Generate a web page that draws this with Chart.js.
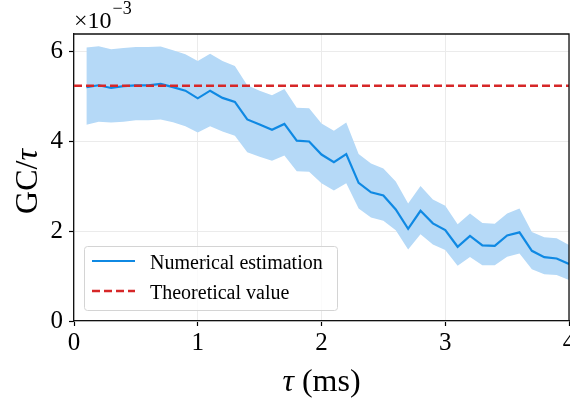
<!DOCTYPE html>
<html>
<head>
<meta charset="utf-8">
<script src="https://cdn.jsdelivr.net/npm/chart.js@4"></script>
<style>
  html, body { margin: 0; padding: 0; background: #fff; }
  #wrap { width: 570px; height: 399px; }
</style>
</head>
<body>
<div id="wrap"><canvas id="myChart" width="570" height="399"></canvas></div>
<script>
// tau in ms
const tau = [0.1, 0.2, 0.3, 0.4, 0.5, 0.6, 0.7, 0.8, 0.9, 1.0,
  1.1, 1.2, 1.3, 1.4, 1.5, 1.6, 1.7, 1.8, 1.9, 2.0,
  2.1, 2.2, 2.3, 2.4, 2.5, 2.6, 2.7, 2.8, 2.9, 3.0,
  3.1, 3.2, 3.3, 3.4, 3.5, 3.6, 3.7, 3.8, 3.9, 4.0];

// GC/tau, units of 1e-3
const meanVals = [5.20, 5.24, 5.18, 5.22, 5.24, 5.24, 5.27, 5.20, 5.12, 4.95,
  5.12, 4.96, 4.87, 4.48, 4.37, 4.25, 4.38, 4.01, 3.99, 3.70,
  3.53, 3.71, 3.07, 2.86, 2.79, 2.48, 2.05, 2.45, 2.17, 2.02,
  1.65, 1.89, 1.68, 1.67, 1.90, 1.97, 1.56, 1.42, 1.39, 1.27];
const upperVals = [6.08, 6.11, 6.04, 6.07, 6.09, 6.09, 6.10, 6.02, 5.93, 5.78,
  5.94, 5.78, 5.67, 5.24, 5.12, 5.02, 5.16, 4.74, 4.73, 4.39,
  4.23, 4.41, 3.71, 3.50, 3.39, 3.10, 2.61, 3.00, 2.70, 2.56,
  2.15, 2.39, 2.18, 2.16, 2.39, 2.50, 1.98, 1.86, 1.84, 1.69];
const lowerVals = [4.36, 4.43, 4.41, 4.43, 4.46, 4.46, 4.48, 4.42, 4.33, 4.19,
  4.33, 4.21, 4.12, 3.75, 3.65, 3.56, 3.68, 3.33, 3.32, 3.06,
  2.90, 3.06, 2.50, 2.30, 2.23, 2.02, 1.59, 1.93, 1.70, 1.58,
  1.23, 1.42, 1.24, 1.24, 1.43, 1.50, 1.15, 1.04, 1.02, 0.91];
const theoryVal = 5.23;
const xRange = [0, 4];
const xTicks = [0, 1, 2, 3, 4];
const yTicks = [0, 2, 4, 6];
const yMax = 6.38;

const scale = 1e-3;
function pts(vals) {
  return vals.map(function (v, i) { return { x: tau[i], y: v * scale }; });
}

const serif = "'Liberation Serif', 'DejaVu Serif', serif";
Chart.defaults.font.family = serif;
Chart.defaults.color = '#000';

const blue = '#0f89e3';
const red = '#d62728';

const extras = {
  id: 'extras',
  afterDraw(chart) {
    const ctx = chart.ctx;
    const a = chart.chartArea;
    ctx.save();
    // top and right spines
    ctx.strokeStyle = '#111';
    ctx.lineWidth = 1.3;
    ctx.beginPath();
    ctx.moveTo(a.left, a.top);
    ctx.lineTo(a.right, a.top);
    ctx.lineTo(a.right, a.bottom);
    ctx.stroke();

    // legend
    ctx.beginPath();
    ctx.roundRect(84.5, 246.5, 253, 64, 3);
    ctx.fillStyle = 'rgba(255,255,255,0.8)';
    ctx.fill();
    ctx.strokeStyle = '#d4d4d4';
    ctx.lineWidth = 1;
    ctx.stroke();

    ctx.lineWidth = 2;
    ctx.strokeStyle = blue;
    ctx.beginPath();
    ctx.moveTo(92, 261);
    ctx.lineTo(135, 261);
    ctx.stroke();
    ctx.strokeStyle = red;
    ctx.lineWidth = 2.5;
    ctx.setLineDash([8, 4]);
    ctx.beginPath();
    ctx.moveTo(92, 291);
    ctx.lineTo(135, 291);
    ctx.stroke();
    ctx.setLineDash([]);

    ctx.fillStyle = '#000';
    ctx.font = '20px ' + serif;
    ctx.textBaseline = 'alphabetic';
    ctx.textAlign = 'left';
    ctx.fillText('Numerical estimation', 150, 268.5);
    ctx.fillText('Theoretical value', 150, 298.5);

    // offset text
    ctx.font = '24px ' + serif;
    ctx.fillText('\u00d710', 74, 28);
    const w = ctx.measureText('\u00d710').width;
    ctx.font = '18px ' + serif;
    ctx.fillText('\u22123', 74 + w + 1, 13.5);

    // x title
    const t1 = '\u03c4';
    ctx.font = '32px ' + serif;
    const rest = ' (ms)';
    const wr = ctx.measureText(rest).width;
    ctx.font = 'italic 32px ' + serif;
    const wt = ctx.measureText(t1).width;
    const cx = (a.left + a.right) / 2;
    let x0 = cx - (wt + wr) / 2;
    ctx.fillText(t1, x0, 391);
    ctx.font = '32px ' + serif;
    ctx.fillText(rest, x0 + wt, 391);

    // y title
    ctx.translate(37, (a.top + a.bottom) / 2 + 4);
    ctx.rotate(-Math.PI / 2);
    ctx.font = '32px ' + serif;
    const g = 'GC/';
    const wg = ctx.measureText(g).width;
    ctx.font = 'italic 32px ' + serif;
    const wtau = ctx.measureText('\u03c4').width;
    const y0 = -(wg + wtau) / 2;
    ctx.font = '32px ' + serif;
    ctx.fillText(g, y0, 0);
    ctx.font = 'italic 32px ' + serif;
    ctx.fillText('\u03c4', y0 + wg, 0);
    ctx.restore();
  }
};

const ctx = document.getElementById('myChart').getContext('2d');
const chart = new Chart(ctx, {
  type: 'line',
  data: {
    datasets: [
      {
        label: 'upper',
        data: pts(upperVals),
        borderWidth: 0,
        borderColor: 'rgba(0,0,0,0)',
        pointRadius: 0,
        backgroundColor: '#b5d9f7',
        fill: '+1',
        order: 3
      },
      {
        label: 'lower',
        data: pts(lowerVals),
        borderWidth: 0,
        borderColor: 'rgba(0,0,0,0)',
        pointRadius: 0,
        fill: false,
        order: 4
      },
      {
        label: 'Numerical estimation',
        data: pts(meanVals),
        borderColor: blue,
        borderWidth: 2.2,
        pointRadius: 0,
        fill: false,
        order: 1
      },
      {
        label: 'Theoretical value',
        data: [{ x: xRange[0], y: theoryVal * scale }, { x: xRange[1], y: theoryVal * scale }],
        borderColor: red,
        borderWidth: 2.5,
        borderDash: [8, 4],
        pointRadius: 0,
        fill: false,
        order: 0
      }
    ]
  },
  options: {
    responsive: false,
    animation: false,
    layout: { padding: { top: 34, right: 1, left: 0, bottom: 0 } },
    plugins: {
      legend: { display: false },
      tooltip: { enabled: false }
    },
    scales: {
      x: {
        type: 'linear',
        min: xRange[0],
        max: xRange[1],
        afterFit(s) { s.height = 78; s.paddingLeft = 0; s.paddingRight = 0; },
        afterBuildTicks(s) { s.ticks = xTicks.map(function (v) { return { value: v }; }); },
        ticks: {
          font: { size: 25 },
          padding: 2,
          maxRotation: 0,
          autoSkip: false
        },
        grid: {
          color: '#ebebeb',
          tickColor: '#000',
          tickLength: 5,
          tickWidth: 1.2
        },
        border: { color: '#111', width: 1.3 }
      },
      y: {
        min: 0,
        max: yMax * scale,
        afterFit(s) { s.width = 74; s.paddingTop = 0; s.paddingBottom = 0; },
        afterBuildTicks(s) { s.ticks = yTicks.map(function (v) { return { value: v * scale }; }); },
        ticks: {
          font: { size: 25 },
          padding: 6,
          callback: function (v) { return String(Math.round(v / scale)); }
        },
        grid: {
          color: '#ebebeb',
          tickColor: '#000',
          tickLength: 5,
          tickWidth: 1.2
        },
        border: { color: '#111', width: 1.3 }
      }
    }
  },
  plugins: [extras]
});
</script>
</body>
</html>
